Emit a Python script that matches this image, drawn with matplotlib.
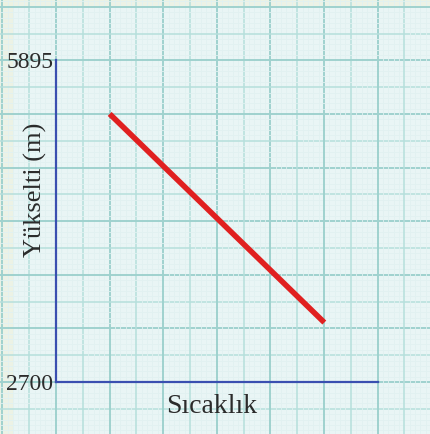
import numpy as np
import matplotlib.pyplot as plt

# Data (elevation vs temperature, temperature in grid units)
sicaklik = [2, 10]
yukselti = [5360, 3290]
y_ticks = [2700, 5895]
y_labels = ["2700", "5895"]

W, H = 431, 434
fig = plt.figure(figsize=(W / 100, H / 100), dpi=100)

# Graph paper background in pixel coordinates
bg = fig.add_axes([0, 0, 1, 1])
bg.set_xlim(0, W)
bg.set_ylim(H, 0)
bg.axis("off")
bg.add_patch(plt.Rectangle((0, 0), W, H, color="#e9f5f5", zorder=0))
bg.add_patch(plt.Rectangle((0, 0), 12, H, color="#eef2e0", zorder=0.5, alpha=0.7))
bg.add_patch(plt.Rectangle((0, 0), W, 6, color="#eef2e0", zorder=0.5, alpha=0.7))

x0, y0, step = 56, 382, 26.8
fine = step / 5
for k in range(-15, 80):
    x = x0 + k * fine
    y = y0 - k * fine
    if k % 10 == 0:
        c, lw = "#9fd2ce", 1.4
    elif k % 5 == 0:
        c, lw = "#b6dfdc", 1.1
    else:
        c, lw = "#e1f1f1", 0.6
    bg.axvline(x, color=c, lw=lw, zorder=1)
    bg.axhline(y, color=c, lw=lw, zorder=1)

# Data axes
ax = fig.add_axes([x0 / W, 1 - y0 / H, (378 - x0) / W, (y0 - 60) / H])
ax.patch.set_alpha(0)
ax.set_xlim(0, 12)
ax.set_ylim(2700, 5895)
for s in ["top", "right"]:
    ax.spines[s].set_visible(False)
for s in ["left", "bottom"]:
    ax.spines[s].set_color("#3a4fb0")
    ax.spines[s].set_linewidth(1.6)
ax.set_xticks([])
ax.set_yticks(y_ticks)
ax.set_yticklabels(y_labels, fontfamily="Liberation Serif", fontsize=17, color="#2b2b2b")
ax.tick_params(axis="y", length=0, pad=2)

ax.plot(sicaklik, yukselti, color="#e02020", lw=4, solid_capstyle="butt")

# axis titles placed in pixel coordinates
bg.text(212, 413, "Sıcaklık", fontfamily="Liberation Serif", fontsize=20,
        color="#2b2b2b", ha="center", va="baseline", zorder=5)
bg.text(42, 190, "Yükselti (m)", fontfamily="Liberation Serif", fontsize=19,
        color="#2b2b2b", ha="center", va="baseline", rotation=90,
        rotation_mode="anchor", zorder=5)

fig.savefig("out.png", dpi=100)
